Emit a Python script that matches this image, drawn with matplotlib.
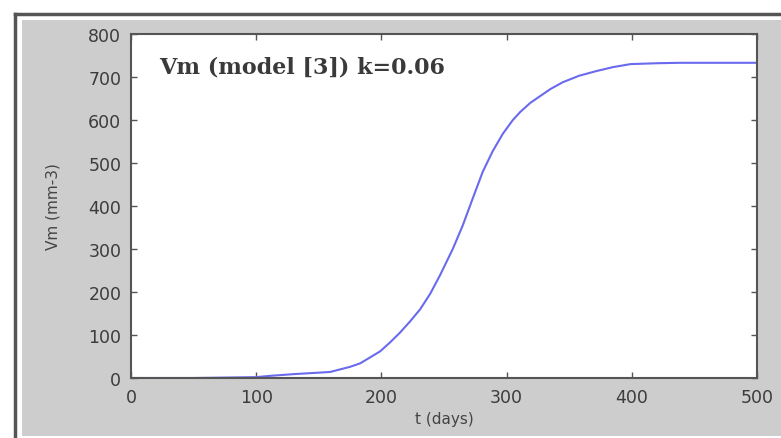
import numpy as np
import matplotlib.pyplot as plt
from matplotlib.patches import Rectangle
from matplotlib.lines import Line2D

# Vm growth curve
t_days = [0, 50, 100, 111, 130, 159, 175, 183, 191, 199, 207, 215, 223, 231, 239,
          247, 257, 265, 273, 281, 289, 297, 305, 311, 319, 327, 335, 345, 358, 372,
          385, 399, 420, 438, 470, 500]
vm = [0, 0, 2, 5, 9, 14, 26, 34, 48, 62, 83, 106, 132, 160, 196,
      240, 300, 355, 418, 480, 528, 568, 600, 619, 640, 656, 672, 688, 703, 714,
      723, 730, 732, 733, 733, 733]

x_ticks = [0, 100, 200, 300, 400, 500]
y_ticks = [0, 100, 200, 300, 400, 500, 600, 700, 800]

W, H = 781, 439
fig = plt.figure(figsize=(W / 100, H / 100), dpi=100)
fig.patch.set_facecolor('white')

# grey panel and dark frame on the top/left, as in the screenshot
fig.patches.append(Rectangle((22 / W, 2 / H), (W - 22) / W, (437 - 21) / H,
                             transform=fig.transFigure, facecolor='#cdcdcd',
                             edgecolor='none', zorder=-2))
fig.lines.append(Line2D([15 / W, 1], [1 - 15 / H, 1 - 15 / H], transform=fig.transFigure,
                        color='#555555', lw=2.5, zorder=-1))
fig.lines.append(Line2D([15 / W, 15 / W], [0, 1 - 15 / H], transform=fig.transFigure,
                        color='#555555', lw=2.5, zorder=-1))

ax = fig.add_axes([131 / W, 1 - 379 / H, (757 - 131) / W, (379 - 35) / H])
ax.set_facecolor('white')
ax.plot(t_days, vm, color='#6a6aee', lw=1.5)

ax.set_xlim(0, 500)
ax.set_ylim(0, 800)
ax.set_xticks(x_ticks)
ax.set_yticks(y_ticks)
ax.tick_params(direction='in', length=4, width=1, colors='#555555',
               labelcolor='#3c3c3c', labelsize=12.5, top=True, right=True, pad=7)
for s in ax.spines.values():
    s.set_color('#555555')
    s.set_linewidth(1.5)

ax.set_xlabel('t (days)', fontsize=11, color='#444444', labelpad=4)
ax.set_ylabel('Vm (mm-3)', fontsize=11, color='#444444', labelpad=20)

ax.text(0.045, 0.905, 'Vm (model [3]) k=0.06', transform=ax.transAxes,
        fontsize=16, fontweight='bold', family='DejaVu Serif', color='#3a3a3a',
        va='center', ha='left')

fig.savefig('out.png', dpi=100)
